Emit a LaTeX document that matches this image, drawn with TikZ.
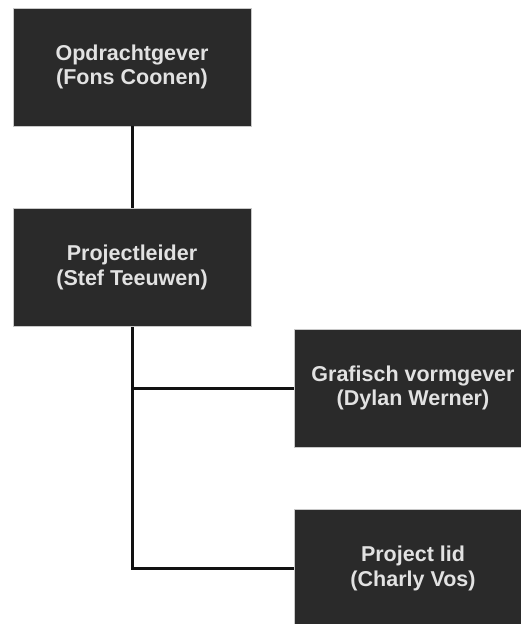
\documentclass[tikz,border=0pt]{standalone}
\usepackage{fontspec}
\setmainfont{Liberation Sans}
\definecolor{boxfill}{HTML}{2A2A2A}
\definecolor{boxline}{HTML}{C8C8C8}
\definecolor{boxtext}{HTML}{E2E2E2}
\definecolor{conn}{HTML}{111111}
\begin{document}
\begin{tikzpicture}[x=1pt,y=-1pt,
  rolebox/.style={draw=boxline, line width=0.8pt, fill=boxfill, text=boxtext,
    minimum width=238pt, minimum height=118pt, inner sep=0pt, align=center,
    font=\bfseries\fontsize{21.5}{24.5}\selectfont},
  link/.style={draw=conn, line width=3pt}]
\useasboundingbox (0,0) rectangle (521,624);
\node[rolebox] (b1) at (132,67) {Opdrachtgever\\(Fons Coonen)};
\node[rolebox] (b2) at (132,267.5) {Projectleider\\(Stef Teeuwen)};
\node[rolebox] (b3) at (413,388) {Grafisch vormgever\\(Dylan Werner)};
\node[rolebox] (b4) at (413,568.5) {Project lid\\(Charly Vos)};
\draw[link] (b1.south) -- (b2.north);
\draw[link] (b2.south) |- (b4.west);
\draw[link] (b2.south |- b3.west) -- (b3.west);
\end{tikzpicture}
\end{document}
